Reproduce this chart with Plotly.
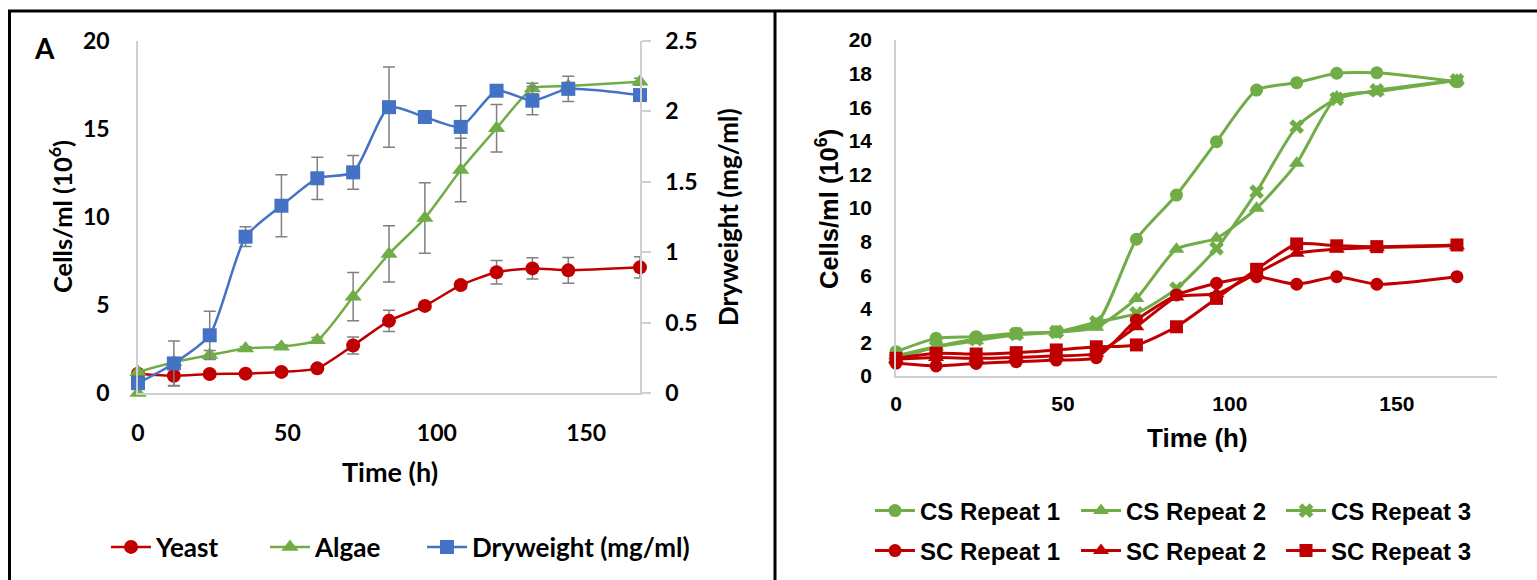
import plotly.graph_objects as go

W, H = 1537, 580

# ---- Panel A: mixed culture growth ----
time_h = [0, 12, 24, 36, 48, 60, 72, 84, 96, 108, 120, 132, 144, 168]

yeast = [1.1, 0.98, 1.08, 1.1, 1.2, 1.4, 2.7, 4.1, 4.95, 6.13, 6.86, 7.08, 6.97, 7.14]
yeast_sd = [0.1, 0.55, 0.15, 0.1, 0.1, 0.15, 0.48, 0.6, 0.2, 0.2, 0.67, 0.6, 0.73, 0.6]

algae = [1.2, 1.75, 2.16, 2.53, 2.63, 3.0, 5.47, 7.9, 9.94, 12.67, 15.04, 17.3, 17.44, 17.69]
algae_sd = [0.1, 0.2, 0.25, 0.1, 0.1, 0.15, 1.37, 1.6, 2.0, 1.8, 1.35, 0.3, 0.2, 0.2]

# lone algae reading plotted at the origin
algae_zero_t = [0]
algae_zero = [0]

dryweight = [0.07, 0.21, 0.41, 1.11, 1.33, 1.525, 1.567, 2.03, 1.96, 1.89, 2.147, 2.076, 2.16, 2.116]
dryweight_sd = [0.02, 0.16, 0.17, 0.07, 0.22, 0.15, 0.12, 0.285, 0.04, 0.15, 0.03, 0.1, 0.09, 0.03]

# ---- Panel B: repeats ----
cs_rep1 = [1.45, 2.24, 2.34, 2.54, 2.64, 3.1, 8.14, 10.77, 13.95, 17.02, 17.46, 18.02, 18.05, 17.52]
cs_rep2 = [1.2, 1.74, 2.1, 2.45, 2.6, 2.9, 4.62, 7.55, 8.2, 9.98, 12.66, 16.6, 16.92, 17.6]
cs_rep3 = [1.0, 1.74, 2.2, 2.5, 2.62, 3.2, 3.73, 5.2, 7.6, 10.97, 14.84, 16.5, 17.0, 17.6]
sc_rep1 = [0.77, 0.6, 0.75, 0.85, 0.95, 1.09, 3.33, 4.82, 5.52, 5.91, 5.46, 5.91, 5.46, 5.91]
sc_rep2 = [1.0, 1.1, 1.05, 1.1, 1.2, 1.35, 2.93, 4.7, 4.9, 6.1, 7.3, 7.55, 7.65, 7.75]
sc_rep3 = [1.05, 1.35, 1.31, 1.39, 1.55, 1.74, 1.85, 2.93, 4.62, 6.35, 7.86, 7.75, 7.7, 7.8]

RED = "#c00000"
GREEN = "#70ad47"
BLUE = "#4472c4"
AXIS_GREY = "#d0d0d0"
ERR_GREY = "#808080"

FONT_A = "Lato"
FONT_B = "Liberation Sans, Arial"


def fx(p):
    return p / W


def fy(p):
    return 1 - p / H


def err(arr):
    return dict(type="data", array=arr, color=ERR_GREY, thickness=1.5, width=6)


fig = go.Figure()

smooth = dict(shape="spline", smoothing=0.6)

fig.add_trace(go.Scatter(
    x=time_h, y=yeast, name="Yeast", mode="lines+markers",
    line=dict(color=RED, width=2.5, **smooth),
    marker=dict(symbol="circle", size=14, color=RED),
    error_y=err(yeast_sd), xaxis="x", yaxis="y", legend="legend", cliponaxis=False))

fig.add_trace(go.Scatter(
    x=time_h, y=algae, name="Algae", mode="lines+markers",
    line=dict(color=GREEN, width=2.5, **smooth),
    marker=dict(symbol="triangle-up", size=15, color=GREEN),
    error_y=err(algae_sd), xaxis="x", yaxis="y", legend="legend2", cliponaxis=False))

fig.add_trace(go.Scatter(
    x=algae_zero_t, y=algae_zero, name="Algae", mode="markers", showlegend=False,
    marker=dict(symbol="triangle-up", size=15, color=GREEN),
    xaxis="x", yaxis="y", cliponaxis=False))

fig.add_trace(go.Scatter(
    x=time_h, y=dryweight, name="Dryweight (mg/ml)", mode="lines+markers",
    line=dict(color=BLUE, width=2.5, **smooth),
    marker=dict(symbol="square", size=14, color=BLUE),
    error_y=err(dryweight_sd), xaxis="x", yaxis="y2", legend="legend3", cliponaxis=False))

series_b = [
    ("CS Repeat 1", cs_rep1, GREEN, "circle", 13, "legend4"),
    ("CS Repeat 2", cs_rep2, GREEN, "triangle-up", 14, "legend5"),
    ("CS Repeat 3", cs_rep3, GREEN, "x", 13, "legend6"),
    ("SC Repeat 1", sc_rep1, RED, "circle", 13, "legend7"),
    ("SC Repeat 2", sc_rep2, RED, "triangle-up", 14, "legend8"),
    ("SC Repeat 3", sc_rep3, RED, "square", 13, "legend9"),
]
for name, vals, col, sym, size, leg in series_b:
    fig.add_trace(go.Scatter(
        x=time_h, y=vals, name=name, mode="lines+markers",
        line=dict(color=col, width=3, **smooth),
        marker=dict(symbol=sym, size=size, color=col),
        xaxis="x2", yaxis="y3", legend=leg, cliponaxis=False))

tick_a = dict(family=FONT_A, size=23, color="black", weight="bold")
tick_b = dict(family=FONT_B, size=21, color="black", weight="bold")

axis_common = dict(showline=True, linecolor=AXIS_GREY, linewidth=1.5,
                   showgrid=False, zeroline=False, ticks="")

layout = dict(
    width=W, height=H,
    margin=dict(l=0, r=0, t=0, b=0, autoexpand=False),
    paper_bgcolor="white", plot_bgcolor="white",
    xaxis=dict(domain=[fx(138), fx(640)], range=[0, 168], tickvals=[0, 50, 100, 150],
               anchor="y", tickfont=tick_a, ticklabelstandoff=19, **axis_common),
    yaxis=dict(domain=[fy(393), fy(41)], range=[0, 20], dtick=5, anchor="x",
               tickfont=tick_a, ticklabelstandoff=22, **axis_common),
    yaxis2=dict(overlaying="y", side="right", anchor="x", range=[0, 2.5], dtick=0.5,
                showline=True, linecolor=AXIS_GREY, linewidth=1.5, showgrid=False,
                zeroline=False, ticks="outside", ticklen=9, tickcolor=AXIS_GREY,
                tickwidth=1.5, tickfont=tick_a, ticklabelstandoff=10),
    xaxis2=dict(domain=[fx(896), fx(1497)], range=[0, 180], tickvals=[0, 50, 100, 150],
                anchor="y3", tickfont=tick_b, ticklabelstandoff=8, **axis_common),
    yaxis3=dict(domain=[fy(376), fy(40)], range=[0, 20], dtick=2, anchor="x2",
                tickfont=tick_b, ticklabelstandoff=18, **axis_common),
)

# one legend box per entry so each sits at its own spot
legend_font_a = dict(family=FONT_A, size=26, color="black", weight="bold")
legend_font_b = dict(family=FONT_B, size=24, color="black", weight="bold")
legend_spots = {
    "legend": (106, 547, legend_font_a),
    "legend2": (265, 547, legend_font_a),
    "legend3": (422, 547, legend_font_a),
    "legend4": (870, 511, legend_font_b),
    "legend5": (1076, 511, legend_font_b),
    "legend6": (1281, 511, legend_font_b),
    "legend7": (870, 551, legend_font_b),
    "legend8": (1076, 551, legend_font_b),
    "legend9": (1281, 551, legend_font_b),
}
for key, (px, py, fnt) in legend_spots.items():
    layout[key] = dict(orientation="h", x=fx(px), y=fy(py), xanchor="left",
                       yanchor="middle", font=fnt, itemwidth=40,
                       bgcolor="rgba(0,0,0,0)")

fig.update_layout(**layout)

annotations = [
    dict(text="A", x=fx(44), y=fy(48), font=dict(family=FONT_A, size=28, weight="bold")),
    dict(text="Time (h)", x=fx(390), y=fy(471), font=dict(family=FONT_A, size=27, weight="bold")),
    dict(text="Cells/ml (10<sup>6</sup>)", x=fx(60), y=fy(217), textangle=-90,
         font=dict(family=FONT_A, size=25.5, weight="bold")),
    dict(text="Dryweight (mg/ml)", x=fx(728), y=fy(217), textangle=-90,
         font=dict(family=FONT_A, size=26, weight="bold")),
    dict(text="Time (h)", x=fx(1197), y=fy(438), font=dict(family=FONT_B, size=26, weight="bold")),
    dict(text="Cells/ml (10<sup>6</sup>)", x=fx(827), y=fy(209), textangle=-90,
         font=dict(family=FONT_B, size=25.5, weight="bold")),
]
for a in annotations:
    a.update(xref="paper", yref="paper", xanchor="center", yanchor="middle",
             showarrow=False)
    a["font"]["color"] = "black"
fig.update_layout(annotations=annotations)

# panel frames
frame = dict(type="line", xref="paper", yref="paper", line=dict(color="black", width=3))
fig.update_layout(shapes=[
    dict(frame, x0=fx(9.5), x1=fx(9.5), y0=0, y1=fy(11)),
    dict(frame, x0=fx(8), x1=1, y0=fy(11), y1=fy(11)),
    dict(frame, x0=fx(775), x1=fx(775), y0=0, y1=fy(11)),
])

fig.write_html("out.html")
